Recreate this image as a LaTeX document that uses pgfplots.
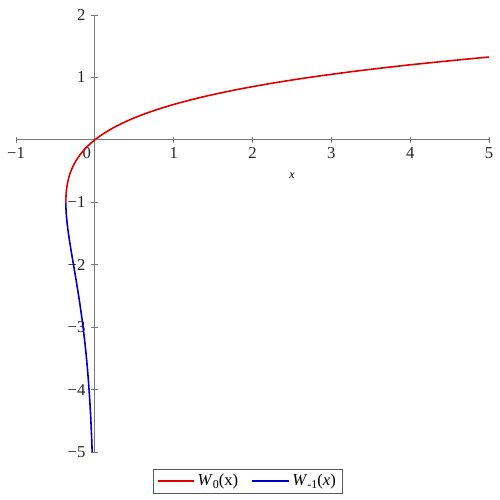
\documentclass[border=0pt]{standalone}
\usepackage{pgfplots}
\pgfplotsset{compat=1.18}
\usepackage{fontspec}
\setmainfont{Liberation Serif}

\definecolor{wred}{RGB}{225,0,0}
\definecolor{wblue}{RGB}{0,0,200}
\definecolor{axgray}{RGB}{120,120,120}

\begin{document}
\begin{tikzpicture}
  \begin{axis}[
      scale only axis,
      width=354.75pt,
      height=327.75pt,
      xmin=-1, xmax=5,
      ymin=-5, ymax=2,
      axis lines=middle,
      axis line style={axgray, line width=0.9pt, -},
      every tick/.style={axgray, line width=0.7pt},
      tick align=center,
      major tick length=5pt,
      minor tick length=3pt,
      minor tick num=1,
      xtick={-1,1,2,3,4,5},
      xticklabels={−1,1,2,3,4,5},
      ytick={-5,-4,-3,-2,-1,1,2},
      yticklabels={−5,−4,−3,−2,−1,1,2},
      extra x ticks={0},
      extra x tick labels={0},
      extra x tick style={xticklabel style={xshift=-6pt}},
      tick label style={font=\fontsize{12.5}{14}\selectfont, text=black!85},
      yticklabel style={xshift=-1pt},
      xlabel={\textit{x}},
      xlabel style={at={(axis cs:2.5,-0.58)}, anchor=center, font=\fontsize{9}{10}\selectfont},
      legend style={at={(0.49,-0.038)}, anchor=north, legend columns=2,
        draw=black!65, font=\fontsize{12.5}{14}\selectfont,
        /tikz/every even column/.append style={column sep=8pt}},
      legend image post style={xscale=1.6},
      legend cell align=left,
      clip=false,
    ]
    \addlegendimage{wred, line width=1.2pt}
    \addlegendentry{\textit{W}\raisebox{-0.35ex}{\small 0}(x)}
    \addlegendimage{wblue, line width=1.2pt}
    \addlegendentry{\textit{W}\raisebox{-0.35ex}{\small -1}(\textit{x})}
    % principal branch W_0, points (w e^w, w)
    \addplot[wred, line width=1.2pt, smooth, forget plot] coordinates {
      (-0.36788,-1) (-0.36741,-0.95) (-0.36591,-0.9) (-0.36330,-0.85)
      (-0.35946,-0.8) (-0.34761,-0.7) (-0.32929,-0.6) (-0.30327,-0.5)
      (-0.26813,-0.4) (-0.22225,-0.3) (-0.16375,-0.2) (-0.09048,-0.1)
      (0,0) (0.11052,0.1) (0.24428,0.2) (0.40496,0.3) (0.59673,0.4)
      (0.82436,0.5) (1.09327,0.6) (1.40963,0.7) (1.78043,0.8)
      (2.21364,0.9) (2.71828,1.0) (3.30459,1.1) (3.98414,1.2)
      (4.77009,1.3) (5,1.3267)
    };
    % lower branch W_{-1}
    \addplot[wblue, line width=1.2pt, smooth, forget plot] coordinates {
      (-0.36788,-1) (-0.36744,-1.05) (-0.36616,-1.1) (-0.36143,-1.2)
      (-0.35429,-1.3) (-0.34524,-1.4) (-0.33470,-1.5) (-0.32304,-1.6)
      (-0.29754,-1.8) (-0.27067,-2.0) (-0.24377,-2.2) (-0.20521,-2.5)
      (-0.17580,-2.75) (-0.14936,-3) (-0.12601,-3.25) (-0.10569,-3.5)
      (-0.08820,-3.75) (-0.07326,-4) (-0.06062,-4.25) (-0.04999,-4.5)
      (-0.04110,-4.75) (-0.03369,-5)
    };
    \coordinate (ll) at (rel axis cs:0,0);
  \end{axis}
  \pgfresetboundingbox
  \path[use as bounding box] ([shift={(-12pt,-36pt)}]ll) rectangle ([shift={(363pt,339pt)}]ll);
\end{tikzpicture}
\end{document}
